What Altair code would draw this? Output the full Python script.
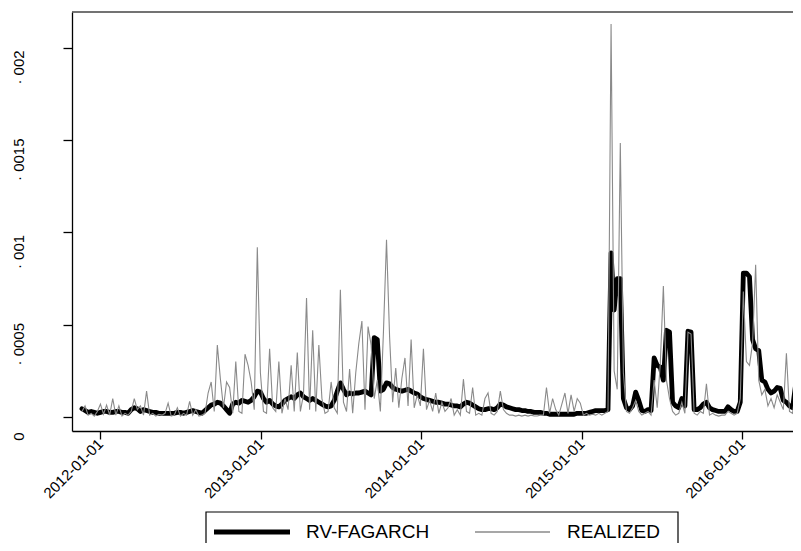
import altair as alt
import pandas as pd

# weekly observations starting 2011-11-21, values in units of 1e-4
start_date = "2011-11-21"
series_names = ["RV-FAGARCH", "REALIZED"]

rv_fagarch = [
    0.45, 0.35, 0.25, 0.3, 0.25, 0.2, 0.25, 0.3, 0.3, 0.25,
    0.25, 0.3, 0.3, 0.25, 0.25, 0.2, 0.4, 0.5, 0.45, 0.3,
    0.4, 0.35, 0.3, 0.25, 0.25, 0.2, 0.2, 0.2, 0.2, 0.2,
    0.2, 0.25, 0.25, 0.2, 0.25, 0.3, 0.35, 0.3, 0.25, 0.2,
    0.35, 0.5, 0.65, 0.7, 0.8, 0.75, 0.6, 0.4, 0.2, 0.7,
    0.8, 0.75, 0.9, 0.85, 0.8, 0.9, 1.1, 1.4, 1.35, 1.0,
    0.8, 0.9, 0.7, 0.6, 0.55, 0.7, 0.9, 1.0, 1.1, 1.0,
    1.2, 1.3, 1.1, 1.0, 0.9, 1.0, 0.9, 0.8, 0.7, 0.6,
    0.55, 0.6, 0.9, 1.4, 1.85, 1.5, 1.2, 1.3, 1.25, 1.3,
    1.3, 1.35, 1.4, 1.3, 1.2, 4.3, 4.2, 1.4, 1.5, 1.85,
    1.8, 1.6, 1.5, 1.45, 1.4, 1.45, 1.5, 1.4, 1.3, 1.25,
    1.1, 1.0, 0.95, 0.9, 0.85, 0.8, 0.8, 0.75, 0.7, 0.7,
    0.65, 0.6, 0.6, 0.55, 0.7, 0.8, 0.75, 0.65, 0.55, 0.45,
    0.4, 0.4, 0.45, 0.45, 0.4, 0.5, 0.7, 0.65, 0.55, 0.5,
    0.45, 0.4, 0.4, 0.35, 0.35, 0.3, 0.3, 0.25, 0.25, 0.25,
    0.2, 0.2, 0.15, 0.15, 0.15, 0.15, 0.15, 0.15, 0.15, 0.15,
    0.15, 0.2, 0.2, 0.2, 0.2, 0.25, 0.3, 0.35, 0.35, 0.35,
    0.35, 0.4, 8.9, 5.8, 7.5, 7.5, 1.0, 0.5, 0.4, 0.6,
    1.35, 0.9, 0.35, 0.3, 0.4, 0.35, 3.2, 2.8, 2.7, 2.0,
    4.7, 4.6, 0.8, 0.6, 0.5, 1.0, 0.6, 4.65, 4.6, 0.4,
    0.4, 0.5, 0.7, 0.8, 0.5, 0.4, 0.35, 0.3, 0.3, 0.3,
    0.55, 0.4, 0.3, 0.3, 0.8, 7.8, 7.8, 7.6, 4.2, 3.7,
    3.6, 2.0, 1.9, 1.5, 1.3, 1.4, 1.6, 1.55, 0.9, 0.8,
    0.6, 0.5, 1.75, 1.7,
]

realized = [
    0.3, 0.6, 0.1, 0.2, 0.05, 0.3, 0.7, 0.15, 0.65, 0.1,
    1.0, 0.1, 0.6, 0.05, 0.2, 0.1, 0.3, 1.0, 0.4, 0.6,
    0.1, 1.4, 0.1, 0.2, 0.05, 0.15, 0.1, 0.2, 0.75, 0.05,
    0.1, 0.5, 0.05, 0.2, 0.1, 0.85, 0.1, 0.4, 0.05, 0.1,
    0.2, 1.3, 1.9, 0.3, 3.9, 2.05, 0.5, 1.9, 1.6, 0.2,
    3.0, 0.3, 0.2, 3.4, 2.8, 1.9, 0.4, 9.2, 2.4, 0.3,
    0.2, 3.7, 0.5, 0.3, 3.0, 0.2, 1.0, 0.4, 2.8, 0.3,
    3.5, 0.3, 1.2, 6.45, 0.4, 4.7, 0.3, 3.9, 1.0, 0.2,
    0.3, 1.9, 0.5, 0.2, 6.9, 0.8, 0.3, 2.6, 0.2, 2.4,
    4.0, 5.2, 0.4, 4.9, 3.9, 1.0, 2.0, 0.3, 4.6, 9.6,
    4.35, 0.8, 2.65, 0.5, 2.1, 3.2, 0.6, 4.2, 0.5, 1.2,
    0.6, 3.7, 0.4, 0.9, 0.3, 1.3, 0.2, 0.8, 0.3, 0.5,
    1.0, 0.1, 0.4, 0.1, 2.05, 0.3, 0.2, 1.6, 0.1, 0.2,
    0.1, 1.0, 1.3, 0.2, 0.1, 0.3, 1.4, 0.4, 0.2, 0.1,
    0.1, 0.05, 0.1, 0.05, 0.1, 0.05, 0.1, 0.05, 0.05, 0.1,
    0.1, 1.6, 0.2, 1.0, 0.4, 0.1, 0.7, 1.3, 0.2, 1.2,
    0.3, 1.0, 0.75, 0.1, 0.2, 0.1, 0.15, 0.1, 0.2, 0.1,
    0.2, 0.3, 21.3, 2.5, 1.5, 14.85, 2.4, 0.3, 0.2, 0.5,
    0.9, 0.3, 0.1, 0.2, 0.3, 0.1, 2.0, 0.5, 2.9, 7.1,
    2.0, 1.0, 0.3, 0.1, 0.2, 0.8, 0.2, 4.6, 4.5, 0.2,
    0.1, 0.3, 0.2, 1.8, 0.1, 0.2, 0.1, 0.05, 0.1, 0.1,
    0.3, 0.2, 0.1, 0.2, 1.0, 6.8, 3.0, 2.8, 4.0, 8.25,
    2.0, 1.2, 1.5, 0.6, 1.0, 0.5, 1.2, 0.8, 0.4, 3.45,
    0.3, 0.2, 1.5, 1.0,
]

y_ticks = [0, 0.0005, 0.001, 0.0015, 0.002]
x_tick_years = [2012, 2013, 2014, 2015, 2016]

dates = pd.date_range(start_date, periods=len(rv_fagarch), freq="7D")
df_b = pd.DataFrame({"date": dates, "value": [v * 1e-4 for v in rv_fagarch]})
df_g = pd.DataFrame({"date": dates, "value": [v * 1e-4 for v in realized]})

FONT = "Liberation Sans"
W = 721

x_enc = alt.X(
    "date:T",
    scale=alt.Scale(domain=[alt.DateTime(year=2011, month=10, date=29, hours=7),
                            alt.DateTime(year=2016, month=4, date=26)]),
    axis=alt.Axis(
        values=[alt.DateTime(year=y, month=1, date=1) for y in x_tick_years],
        format="%Y-%m-%d", labelAngle=315, labelAlign="right", labelBaseline="middle",
        labelPadding=2, tickSize=8, grid=False, title=None, labelFlush=False,
        labelOverlap=False, labelFontSize=15, labelFont=FONT, labelColor="black",
        domainColor="black", tickColor="black", domainWidth=1.3, tickWidth=1.3,
    ),
)
y_enc = alt.Y(
    "value:Q",
    scale=alt.Scale(domain=[-0.0000759, 0.002195], nice=False, zero=False),
    axis=alt.Axis(
        values=y_ticks,
        labelExpr="datum.value == 0 ? '0' : '· ' + replace(format(datum.value, '.4~f'), '0.', '')",
        labelAngle=270, labelAlign="center", labelBaseline="middle", labelPadding=45,
        labelOffset=19, tickSize=9, grid=False, title=None, labelFlush=False,
        labelOverlap=False, labelFontSize=15, labelFont=FONT, labelColor="black",
        domainColor="black", tickColor="black", domainWidth=1.3, tickWidth=1.3,
    ),
)

black_line = alt.Chart(df_b).mark_line(
    color="black", strokeWidth=4.8, strokeJoin="round", strokeCap="round", clip=True
).encode(x=x_enc, y=y_enc)

gray_line = alt.Chart(df_g).mark_line(
    color="#8a8a8a", strokeWidth=1.1, clip=True
).encode(x="date:T", y="value:Q")

top_border = alt.Chart().mark_rule(color="#444", strokeWidth=1.5).encode(
    x=alt.value(0), x2=alt.value(W), y=alt.value(0)
)

legend_box = alt.Chart().mark_rect(
    stroke="black", strokeWidth=1.2, fillOpacity=0
).encode(x=alt.value(134), x2=alt.value(606), y=alt.value(500), y2=alt.value(570))

leg_b_line = alt.Chart().mark_rule(color="black", strokeWidth=5).encode(
    x=alt.value(142), x2=alt.value(218), y=alt.value(520)
)
leg_b_text = alt.Chart().mark_text(
    align="left", baseline="alphabetic", fontSize=19, font=FONT, color="black"
).encode(x=alt.value(234), y=alt.value(526), text=alt.value(series_names[0]))

leg_g_line = alt.Chart().mark_rule(color="#8a8a8a", strokeWidth=1.5).encode(
    x=alt.value(403), x2=alt.value(478), y=alt.value(520)
)
leg_g_text = alt.Chart().mark_text(
    align="left", baseline="alphabetic", fontSize=19, font=FONT, color="black"
).encode(x=alt.value(495), y=alt.value(526), text=alt.value(series_names[1]))

chart = alt.layer(
    black_line, gray_line, top_border, legend_box,
    leg_b_line, leg_b_text, leg_g_line, leg_g_text,
).properties(
    width=W, height=419,
    padding={"left": 64, "top": 4, "right": 0, "bottom": 112},
    autosize=alt.AutoSizeParams(type="none"),
    background="white",
).configure_view(stroke=None)

chart.save("out.html", embed_options={"renderer": "svg", "actions": False})
